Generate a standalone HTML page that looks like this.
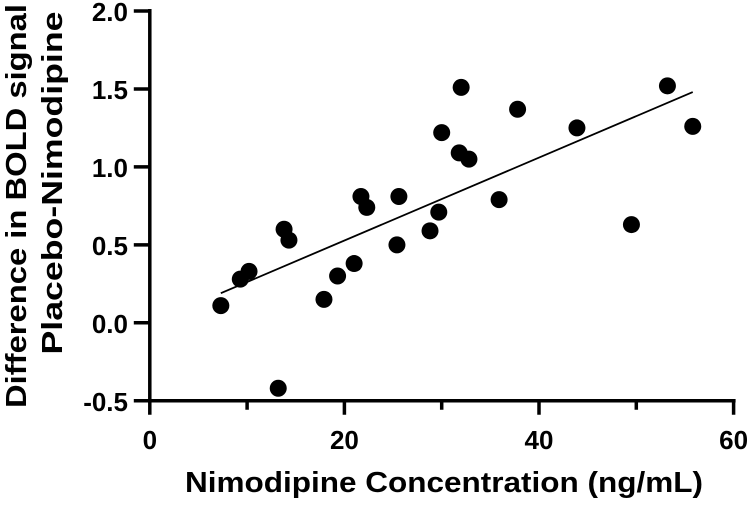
<!DOCTYPE html>
<html><head><meta charset="utf-8"><style>
body{margin:0;background:#fff}
svg text{font-family:"Liberation Sans",Arial,sans-serif;font-weight:bold;fill:#000}
</style></head><body>
<svg id="chart" width="750" height="503" viewBox="0 0 750 503">
<g id="axes"></g>
<g id="pts"></g>
<text x="444" y="492" font-size="29" text-anchor="middle" textLength="518" lengthAdjust="spacingAndGlyphs">Nimodipine Concentration (ng/mL)</text>
<text transform="translate(26,206) rotate(-90)" font-size="29" text-anchor="middle" textLength="404" lengthAdjust="spacingAndGlyphs">Difference in BOLD signal</text>
<text transform="translate(62,183) rotate(-90)" font-size="29" text-anchor="middle" textLength="343" lengthAdjust="spacingAndGlyphs">Placebo-Nimodipine</text>
</svg>
<script>
const xVals=[7.3,9.3,10.2,13.2,13.8,14.3,17.9,19.3,21,21.7,22.3,25.4,25.6,28.8,29.7,30,31.8,32.0,32.8,35.9,37.8,43.9,49.5,53.2,55.8];
const yVals=[0.11,0.28,0.33,-0.42,0.60,0.53,0.15,0.30,0.38,0.81,0.74,0.50,0.81,0.59,0.71,1.22,1.09,1.51,1.05,0.79,1.37,1.25,0.63,1.52,1.26];
const xTicks=[0,20,40,60];
const xMinor=[10,30,50];
const yTicks=[-0.5,0,0.5,1.0,1.5,2.0];
const yTickLabels=["-0.5","0.0","0.5","1.0","1.5","2.0"];
const fitX=[7.3,55.8];
const fitY=[0.19,1.48];
const NS="http://www.w3.org/2000/svg";
const X=v=>149.8+v*9.73;
const Y=v=>11+(2-v)*155.9;
function mk(tag,attrs,parent){const e=document.createElementNS(NS,tag);for(const k in attrs)e.setAttribute(k,attrs[k]);parent.appendChild(e);return e;}
const ax=document.getElementById('axes');
let e=mk('line',{x1:X(0),y1:Y(2)-2,x2:X(0),y2:Y(-0.5)+2,stroke:'#000','stroke-width':3.5},ax);


e=mk('line',{x1:X(0)-2,y1:Y(-0.5),x2:X(60)+2,y2:Y(-0.5),stroke:'#000','stroke-width':3.5},ax);


yTicks.forEach((v,i)=>{
 let t=mk('line',{x1:X(0)-16,x2:X(0),y1:Y(v),y2:Y(v),stroke:'#000','stroke-width':3.5},ax);
 
 
 let l=mk('text',{x:128,y:Y(v)+10,'font-size':26,'text-anchor':'end'},ax);
 l.textContent=yTickLabels[i];
 
 
});
xTicks.forEach(v=>{
 let t=mk('line',{x1:X(v),x2:X(v),y1:Y(-0.5),y2:Y(-0.5)+14,stroke:'#000','stroke-width':3.5},ax);
 
 
 let l=mk('text',{x:X(v),y:449,'font-size':26,'text-anchor':'middle'},ax);
 l.textContent=String(v);
 
 
});
xMinor.forEach(v=>{
 let t=mk('line',{x1:X(v),x2:X(v),y1:Y(-0.5),y2:Y(-0.5)+9,stroke:'#000','stroke-width':3.5},ax);
 
 
});
const pg=document.getElementById('pts');
let fl=mk('line',{x1:X(fitX[0]),y1:Y(fitY[0]),x2:X(fitX[1]),y2:Y(fitY[1]),stroke:'#000','stroke-width':1.8},pg);


xVals.forEach((xv,i)=>{
 let c=mk('circle',{cx:X(xv),cy:Y(yVals[i]),r:8.5,fill:'#000'},pg);
 
 
});
</script>
</body></html>
